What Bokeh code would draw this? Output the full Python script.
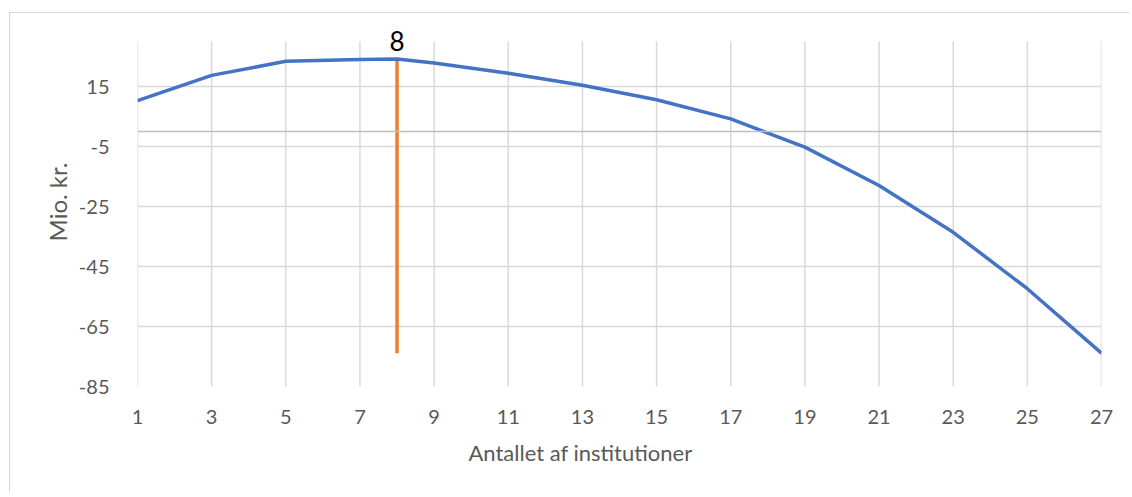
from bokeh.plotting import figure
from bokeh.models import FixedTicker, Span, Label, Range1d, Title, PrintfTickFormatter
from bokeh.embed import file_html
from bokeh.resources import INLINE

# Data
institutions = [1, 3, 5, 7, 8, 9, 11, 13, 15, 17, 19, 21, 23, 25, 27]
mio_kr = [10.3, 18.7, 23.4, 24.0, 24.2, 22.8, 19.4, 15.4, 10.6, 4.2, -5.2, -18.0, -33.6, -52.4, -73.9]
optimum_x = 8
optimum_label = "8"
x_ticks = [1, 3, 5, 7, 9, 11, 13, 15, 17, 19, 21, 23, 25, 27]
y_ticks = [-85, -65, -45, -25, -5, 15]
y_axis_min, y_axis_max = -85, 30

FONT = "Lato"
GRID = "#d9d9d9"
TXT = "#595959"

p = figure(width=1120, height=480, output_backend="svg", toolbar_location=None,
           x_range=Range1d(1, 27), y_range=Range1d(y_axis_min, 38),
           min_border_left=127, min_border_right=29, min_border_top=4, min_border_bottom=107)
p.margin = (12, 0, 0, 9)
p.styles = {"border-top": "1px solid #d9d9d9", "border-left": "1px solid #d9d9d9"}
p.outline_line_color = None
p.background_fill_color = "white"

p.xaxis.ticker = FixedTicker(ticks=x_ticks)
p.yaxis.ticker = FixedTicker(ticks=y_ticks)
p.yaxis.formatter = PrintfTickFormatter(format="%d")
for ax in (p.xaxis[0], p.yaxis[0]):
    ax.axis_line_color = None
    ax.major_tick_line_color = None
    ax.minor_tick_line_color = None
    ax.major_label_text_font = FONT
    ax.major_label_text_font_size = "20px"
    ax.major_label_text_color = TXT
p.xaxis.major_label_standoff = 17
p.yaxis.major_label_standoff = 22

p.yaxis.axis_label = "Mio. kr."
p.yaxis.axis_label_text_font = FONT
p.yaxis.axis_label_text_font_size = "24px"
p.yaxis.axis_label_text_font_style = "normal"
p.yaxis.axis_label_text_color = TXT
p.yaxis.axis_label_standoff = 4

# gridlines: vertical ones drawn only up to the axis maximum
p.xgrid.visible = False
p.ygrid.grid_line_color = GRID
p.ygrid.grid_line_width = 1.5
p.segment(x0=x_ticks, x1=x_ticks, y0=[y_axis_min] * len(x_ticks), y1=[y_axis_max] * len(x_ticks),
          line_color=GRID, line_width=1.5)

p.add_layout(Span(location=0, dimension="width", line_color="#bfbfbf", line_width=1.5))

ymin, ymax = min(mio_kr), max(mio_kr)
p.line([optimum_x, optimum_x], [ymin, ymax], line_color="#ED7D31", line_width=3.5)
p.line(institutions, mio_kr, line_color="#4472C4", line_width=3.5)

# label sits just above the peak
p.add_layout(Label(x=optimum_x, y=ymax + 2.7, text=optimum_label, text_align="center",
                   text_baseline="bottom", text_font=FONT,
                   text_font_size="26px", text_color="black"))

p.add_layout(Title(text="Antallet af institutioner", align="left", offset=331, standoff=21,
                   text_font=FONT, text_font_size="22px", text_font_style="normal",
                   text_color=TXT), "below")

open("out.html", "w").write(file_html(p, INLINE))
